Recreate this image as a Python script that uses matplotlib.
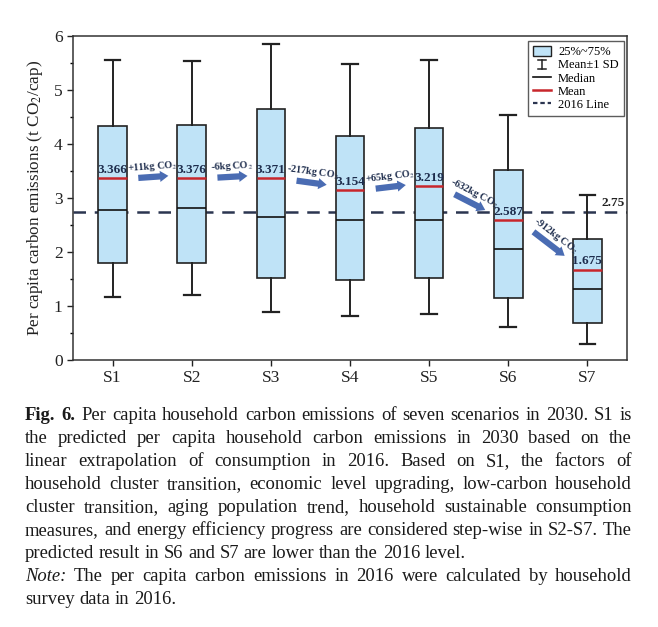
import math
import matplotlib
matplotlib.use("Agg")
import matplotlib.pyplot as plt
from matplotlib.patches import Rectangle, FancyArrowPatch
from matplotlib.lines import Line2D
from matplotlib.legend_handler import HandlerBase

plt.rcParams['font.family'] = ['Liberation Serif', 'DejaVu Serif']
plt.rcParams['mathtext.fontset'] = 'stix'

# data (t CO2 / cap)
scenarios = ['S1', 'S2', 'S3', 'S4', 'S5', 'S6', 'S7']
whisker_low = [1.17, 1.20, 0.88, 0.82, 0.86, 0.62, 0.30]
q1 = [1.79, 1.80, 1.51, 1.48, 1.51, 1.14, 0.69]
medians = [2.78, 2.81, 2.65, 2.59, 2.59, 2.06, 1.31]
means = [3.366, 3.376, 3.371, 3.154, 3.219, 2.587, 1.675]
q3 = [4.33, 4.35, 4.64, 4.14, 4.29, 3.52, 2.25]
whisker_high = [5.55, 5.53, 5.85, 5.48, 5.56, 4.54, 3.06]
changes = ['+11', '-6', '-217', '+65', '-632', '-912']
level_2016 = 2.75

caption_lines = [
    [('Fig. 6.', 'bold'), ('Per capita household carbon emissions of seven scenarios in 2030. S1 is', 'normal')],
    [('the predicted per capita household carbon emissions in 2030 based on the', 'normal')],
    [('linear extrapolation of consumption in 2016. Based on S1, the factors of', 'normal')],
    [('household cluster transition, economic level upgrading, low-carbon household', 'normal')],
    [('cluster transition, aging population trend, household sustainable consumption', 'normal')],
    [('measures, and energy efficiency progress are considered step-wise in S2-S7. The', 'normal')],
    [('predicted result in S6 and S7 are lower than the 2016 level.', 'normal')],
    [('Note:', 'italic'), ('The per capita carbon emissions in 2016 were calculated by household', 'normal')],
    [('survey data in 2016.', 'normal')],
]
justified = [True, True, True, True, True, True, False, True, False]

BOX_FILL = '#bfe3f7'
MEAN_RED = '#c8262c'
NAVY = '#1e2d4d'
ARROW_BLUE = '#4a6cb3'

W, H = 658, 627
fig = plt.figure(figsize=(W / 100, H / 100), dpi=100)
ax = fig.add_axes([73 / W, 1 - 360 / H, 554 / W, 324 / H])

positions = list(range(1, len(scenarios) + 1))
stats = []
for i in range(len(scenarios)):
    stats.append(dict(whislo=whisker_low[i], q1=q1[i], med=medians[i],
                      q3=q3[i], whishi=whisker_high[i], mean=means[i]))

ax.bxp(stats, positions=positions, widths=0.36, capwidths=0.2,
       showmeans=True, meanline=True, showfliers=False, patch_artist=True,
       boxprops=dict(facecolor=BOX_FILL, edgecolor='#222222', linewidth=1.2),
       medianprops=dict(color='#111111', linewidth=1.2),
       meanprops=dict(color=MEAN_RED, linewidth=1.8, linestyle='-'),
       whiskerprops=dict(color='#222222', linewidth=1.4),
       capprops=dict(color='#222222', linewidth=1.6))

ax.axhline(level_2016, color='#2b3550', linestyle=(0, (5, 3.5)), linewidth=1.8, zorder=1.5)

ax.set_xlim(0.5, 7.5)
ax.set_ylim(0, 6)
ax.set_xticks(positions)
ax.set_xticklabels(scenarios)
ax.set_yticks(range(0, 7))
ax.set_yticks([v + 0.5 for v in range(0, 6)], minor=True)
ax.tick_params(axis='both', which='major', direction='out', length=4, width=1,
               labelsize=12.5, colors='#222222')
ax.tick_params(axis='y', which='minor', direction='out', length=2.5, width=1)
for s in ax.spines.values():
    s.set_linewidth(1.1)
    s.set_color('#333333')
ax.set_ylabel('Per capita carbon emissions (t CO$_2$/cap)', fontsize=12.3,
              color='#222222', labelpad=6)

# mean labels
for x, m in zip(positions, means):
    ax.annotate(f'{m:.3f}', (x, m), xytext=(0, 1.5), textcoords='offset points',
                ha='center', va='bottom', fontsize=9.5, fontweight='bold', color=NAVY, zorder=5)

ax.annotate(f'{level_2016:.2f}', (7.32, level_2016), xytext=(0, 1.5), textcoords='offset points',
            ha='center', va='bottom', fontsize=9.5, fontweight='bold', color='#222222')

# arrows between scenarios
fig.canvas.draw()
for i, ch in enumerate(changes):
    m0, m1 = means[i], means[i + 1]
    d = m1 - m0
    x0, x1 = positions[i] + 0.29, positions[i] + 0.74
    y0, y1 = m0 + 0.2 * d + 0.0, m0 + 0.8 * d + 0.04
    arr = FancyArrowPatch((x0, y0), (x1, y1),
                          arrowstyle='simple,head_length=6,head_width=8,tail_width=4.5',
                          color=ARROW_BLUE, lw=0, mutation_scale=1, zorder=4)
    ax.add_patch(arr)
    p0 = ax.transData.transform((x0, y0))
    p1 = ax.transData.transform((x1, y1))
    ang = math.degrees(math.atan2(p1[1] - p0[1], p1[0] - p0[0]))
    nx, ny = -math.sin(math.radians(ang)), math.cos(math.radians(ang))
    off = 7.5
    ax.annotate(f'{ch}kg CO$_2$', ((x0 + x1) / 2, (y0 + y1) / 2),
                xytext=(nx * off, ny * off), textcoords='offset points',
                ha='center', va='center', rotation=ang, rotation_mode='anchor',
                fontsize=7.3, fontweight='bold', color=NAVY, zorder=5)


class ErrorBarHandler(HandlerBase):
    def create_artists(self, legend, orig_handle, xdescent, ydescent, width, height, fontsize, trans):
        cx = width / 2 - xdescent
        top = height * 0.95 - ydescent
        bot = height * 0.05 - ydescent
        c = width * 0.22
        arts = [Line2D([cx, cx], [bot, top]),
                Line2D([cx - c, cx + c], [top, top]),
                Line2D([cx - c, cx + c], [bot, bot])]
        for a in arts:
            a.set_color('#222222')
            a.set_linewidth(1.1)
            a.set_transform(trans)
        return arts


eb_handle = Line2D([], [])
handles = [Rectangle((0, 0), 1, 1, facecolor=BOX_FILL, edgecolor='#222222', linewidth=1),
           eb_handle,
           Line2D([], [], color='#111111', linewidth=1.2),
           Line2D([], [], color=MEAN_RED, linewidth=1.8),
           Line2D([], [], color='#2b3550', linewidth=1.6, linestyle=(0, (2, 1.3)))]
labels = ['25%~75%', 'Mean\u00b11 SD', 'Median', 'Mean', '2016 Line']
leg = ax.legend(handles, labels, loc='upper right', bbox_to_anchor=(0.994, 0.985),
                fontsize=9, frameon=True, fancybox=False, edgecolor='#333333',
                handlelength=1.4, handleheight=0.9, handletextpad=0.6,
                labelspacing=0.05, borderpad=0.4, borderaxespad=0,
                handler_map={eb_handle: ErrorBarHandler()})
leg.get_frame().set_linewidth(1.0)

# caption, justified line by line
renderer = fig.canvas.get_renderer()
left_px, right_px = 25, 632
first_px, step_px = 415, 23.1


def word_width(txt, style, fs):
    t = fig.text(0, 0, txt, fontsize=fs,
                 fontweight='bold' if style == 'bold' else 'normal',
                 fontstyle='italic' if style == 'italic' else 'normal')
    w = t.get_window_extent(renderer).width
    t.remove()
    return w


def split_tokens(segs):
    toks = []
    for txt, style in segs:
        for wd in txt.split(' '):
            toks.append((wd, style))
    return toks


# pick the caption size so the widest line just fits with normal spacing
base_fs = 12.0
base_space = word_width('a a', 'normal', base_fs) - word_width('aa', 'normal', base_fs)
widest = 0
for segs in caption_lines:
    toks = split_tokens(segs)
    wsum = sum(word_width(wd, st, base_fs) for wd, st in toks) + base_space * (len(toks) - 1)
    widest = max(widest, wsum)
cap_fs = min(14.0, base_fs * (right_px - left_px) / widest * 0.995)
space_w = word_width('a a', 'normal', cap_fs) - word_width('aa', 'normal', cap_fs)

for k, (segs, just) in enumerate(zip(caption_lines, justified)):
    tokens = split_tokens(segs)
    widths = [word_width(wd, st, cap_fs) for wd, st in tokens]
    gaps = len(tokens) - 1
    if just and gaps > 0:
        gap = (right_px - left_px - sum(widths)) / gaps
    else:
        gap = space_w
    x = left_px
    y = 1 - (first_px + step_px * k) / H
    for (wd, st), w in zip(tokens, widths):
        fig.text(x / W, y, wd, fontsize=cap_fs, va='center', ha='left', color='#1a1a1a',
                 fontweight='bold' if st == 'bold' else 'normal',
                 fontstyle='italic' if st == 'italic' else 'normal')
        x += w + gap

fig.savefig('out.png', dpi=100)
